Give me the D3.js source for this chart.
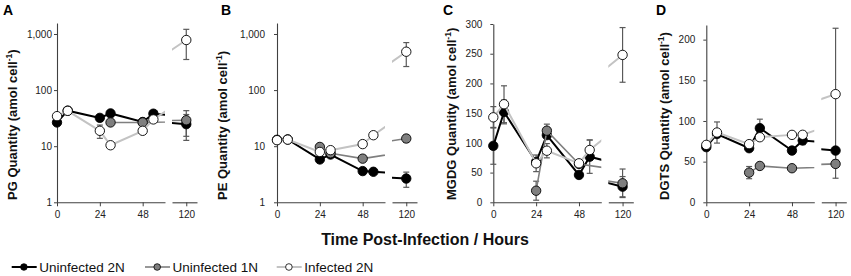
<!DOCTYPE html>
<html>
<head>
<meta charset="utf-8">
<script src="https://cdn.jsdelivr.net/npm/d3@7"></script>
<style>
  body { margin: 0; background: #fff; }
  svg { font-family: "Liberation Sans", Arial, sans-serif; }
  .axis path, .axis line { stroke: #404040; }
  .axis text { font-size: 10px; fill: #222; font-family: "Liberation Sans", Arial, sans-serif; }
</style>
</head>
<body>
<svg id="chart" width="851" height="276"></svg>
<script>
// time points (hours); the 1N culture was only sampled from 24 h
const hours = [0, 6, 24, 30, 48, 54, 120]
const hours1N = [24, 30, 48, 120]
const pgHours1N = [30, 48, 120]
const xTicks1 = [0, 24, 48]
const xTicks2 = [120]

const seriesNames = ['Uninfected 2N', 'Uninfected 1N', 'Infected 2N']

// PG (amol cell-1)
const pg2N = [26.5, 43, 32, 38.4, 27, 38, 24.7]
const pg2NErr = [0, 0, 0, 0, 0, 0, 12]
const pg1N = [26.5, 26.5, 29]
const pg1NErr = [0, 0, 14]
const pgInf = [34.3, 42.7, 18.8, 10.4, 18.8, 30, 781]
const pgInfErr = [0, 0, 5, 0, 0, 0, 430]

// PE
const pe2N = [13, 13.2, 5.8, 7.1, 3.6, 3.5, 2.65]
const pe2NErr = [0, 0, 0, 0, 0, 0, 0.8]
const pe1N = [9.7, 7.5, 6.0, 13.7]
const pe1NErr = [0, 0, 0, 2]
const peInf = [12.8, 13.1, 7.9, 8.5, 10.9, 15.7, 483]
const peInfErr = [0, 0, 0, 0, 0, 0, 220]

// MGDG
const mgdg2N = [95, 152, 68, 113, 46, 76.7, 26.3]
const mgdg2NErr = [31, 20, 0, 0, 0, 28, 17]
const mgdg1N = [19.5, 120.5, 64.5, 32]
const mgdg1NErr = [16, 11, 0, 24]
const mgdgInf = [143, 165, 65.6, 86.8, 65.6, 88, 248]
const mgdgInfErr = [18, 31, 14, 12, 0, 17, 46]

// DGTS
const dgts2N = [67.8, 84, 66.5, 91.2, 63.6, 76, 63.6]
const dgts2NErr = [0, 0, 0, 11, 0, 5, 0]
const dgts1N = [36.5, 44.7, 41.9, 47.2]
const dgts1NErr = [7.5, 0, 0, 17.6]
const dgtsInf = [70.6, 85.8, 71.5, 80, 82.9, 83, 133]
const dgtsInfErr = [0, 13, 0, 0, 0, 0, 81]

const logTicks = [1, 10, 100, 1000]
const mgdgTicks = [0, 50, 100, 150, 200, 250, 300]
const dgtsTicks = [0, 50, 100, 150, 200]

const style = [
  {line: '#000', fill: '#000', width: 2},
  {line: '#7f7f7f', fill: '#7f7f7f', width: 1.6},
  {line: '#c3c3c3', fill: '#fff', width: 2}
]

const panels = [
  {letter: 'A', lipid: 'PG', log: true, yMax: 1570, ticks: logTicks, left: 57, top: 23, pad: 2, titleX: 17, letterX: 3,
   times: [hours, pgHours1N, hours], vals: [pg2N, pg1N, pgInf], errs: [pg2NErr, pg1NErr, pgInfErr]},
  {letter: 'B', lipid: 'PE', log: true, yMax: 1570, ticks: logTicks, left: 277, top: 23, pad: 9, titleX: 227, letterX: 221,
   times: [hours, hours1N, hours], vals: [pe2N, pe1N, peInf], errs: [pe2NErr, pe1NErr, peInfErr]},
  {letter: 'C', lipid: 'MGDG', log: false, yMax: 300, ticks: mgdgTicks, left: 493.3, top: 24, pad: 8, titleX: 456, letterX: 443,
   times: [hours, hours1N, hours], vals: [mgdg2N, mgdg1N, mgdgInf], errs: [mgdg2NErr, mgdg1NErr, mgdgInfErr]},
  {letter: 'D', lipid: 'DGTS', log: false, yMax: 218, ticks: dgtsTicks, left: 706.3, top: 25, pad: 8, titleX: 669, letterX: 656,
   times: [hours, hours1N, hours], vals: [dgts2N, dgts1N, dgtsInf], errs: [dgts2NErr, dgts1NErr, dgtsInfErr]}
]

const svg = d3.select('#chart')
const defs = svg.append('defs')
const bottom = 202.3
const k = 1.785   // px per hour, same in both axis pieces

panels.forEach((p, i) => {
  const seg1End = p.left + 60.5 * k
  const seg2Start = seg1End + 7
  const seg2End = seg2Start + 25
  const xs1 = d3.scaleLinear().domain([0, 60.5]).range([p.left, seg1End])
  const xs2 = d3.scaleLinear().domain([112, 112 + 25 / k]).range([seg2Start, seg2End])
  const xOf = t => t > 100 ? xs2(t) : xs1(t)
  const y = p.log
    ? d3.scaleLog().domain([1, p.yMax]).range([bottom, p.top])
    : d3.scaleLinear().domain([0, p.yMax]).range([bottom, p.top])

  const g = svg.append('g')

  // axes
  g.append('g')
    .attr('class', 'axis')
    .attr('transform', 'translate(' + p.left + ',0)')
    .call(d3.axisLeft(y).tickValues(p.ticks).tickFormat(d3.format(',')).tickSize(3).tickSizeOuter(0).tickPadding(p.pad))

  g.append('g')
    .attr('class', 'axis')
    .attr('transform', 'translate(0,' + bottom + ')')
    .call(d3.axisBottom(xs1).tickValues(xTicks1).tickSize(4).tickSizeOuter(0).tickPadding(5))

  g.append('g')
    .attr('class', 'axis')
    .attr('transform', 'translate(0,' + bottom + ')')
    .call(d3.axisBottom(xs2).tickValues(xTicks2).tickSize(4).tickSizeOuter(0).tickPadding(5))

  g.selectAll('.axis path').attr('stroke-width', 1.1)

  // titles
  g.append('text')
    .attr('x', p.letterX).attr('y', 15)
    .attr('font-size', 14).attr('font-weight', 'bold')
    .text(p.letter)

  const title = g.append('text')
    .attr('transform', 'translate(' + p.titleX + ',200) rotate(-90)')
    .attr('font-size', 13).attr('font-weight', 'bold').attr('fill', '#111')
  title.append('tspan').text(p.lipid + ' Quantity (amol cell')
  title.append('tspan').attr('font-size', 8.5).attr('dy', -5).text('-1')
  title.append('tspan').attr('dy', 5).text(')')

  // clip paths for the two pieces of the broken axis
  const segs = [[xs1, p.left, seg1End], [xs2, seg2Start, seg2End]]
  segs.forEach(([xs, x0, x1], j) => {
    defs.append('clipPath').attr('id', 'clip-' + i + '-' + j)
      .append('rect').attr('x', x0).attr('y', 0).attr('width', x1 - x0).attr('height', 230)
  })

  const rowsOf = s => p.times[s].map((t, j) => ({t: t, v: p.vals[s][j], e: p.errs[s][j]}))

  // error bars
  const eb = g.append('g').attr('stroke', '#595959').attr('stroke-width', 1.2)
  ;[0, 1, 2].forEach(s => {
    rowsOf(s).filter(d => d.e > 0).forEach(d => {
      const x = xOf(d.t)
      const lo = y(Math.max(d.v - d.e, p.log ? 1 : 0))
      const hi = y(d.v + d.e)
      eb.append('line').attr('x1', x).attr('x2', x).attr('y1', lo).attr('y2', hi)
      eb.append('line').attr('x1', x - 3).attr('x2', x + 3).attr('y1', lo).attr('y2', lo)
      eb.append('line').attr('x1', x - 3).attr('x2', x + 3).attr('y1', hi).attr('y2', hi)
    })
  })

  // series: line then markers
  ;[0, 1, 2].forEach(s => {
    const rows = rowsOf(s)
    segs.forEach(([xs], j) => {
      const line = d3.line().x(d => xs(d.t)).y(d => y(d.v))
      g.append('path')
        .datum(rows)
        .attr('clip-path', 'url(#clip-' + i + '-' + j + ')')
        .attr('fill', 'none')
        .attr('stroke', style[s].line)
        .attr('stroke-width', style[s].width)
        .attr('d', line)
    })
    g.selectAll('circle.s' + s)
      .data(rows)
      .join('circle')
      .attr('class', 's' + s)
      .attr('cx', d => xOf(d.t))
      .attr('cy', d => y(d.v))
      .attr('r', 4.7)
      .attr('fill', style[s].fill)
      .attr('stroke', '#000')
      .attr('stroke-width', 0.9)
  })
})

// x axis title
svg.append('text')
  .attr('x', 425).attr('y', 245)
  .attr('text-anchor', 'middle')
  .attr('font-size', 16).attr('font-weight', 'bold').attr('fill', '#111')
  .text('Time Post-Infection / Hours')

// legend
const legendX = [11.7, 145, 276.7]
const legend = svg.append('g')
seriesNames.forEach((name, s) => {
  const lg = legend.append('g').attr('transform', 'translate(' + legendX[s] + ',267)')
  lg.append('line').attr('x1', 0).attr('x2', 25).attr('y1', 0).attr('y2', 0)
    .attr('stroke', style[s].line).attr('stroke-width', style[s].width)
  lg.append('circle').attr('cx', 12.2).attr('cy', 0).attr('r', 3.3)
    .attr('fill', style[s].fill).attr('stroke', '#000').attr('stroke-width', 0.8)
  lg.append('text').attr('x', 27.5).attr('y', 4.6)
    .attr('font-size', 13.5).attr('fill', '#111')
    .text(name)
})
</script>
</body>
</html>
